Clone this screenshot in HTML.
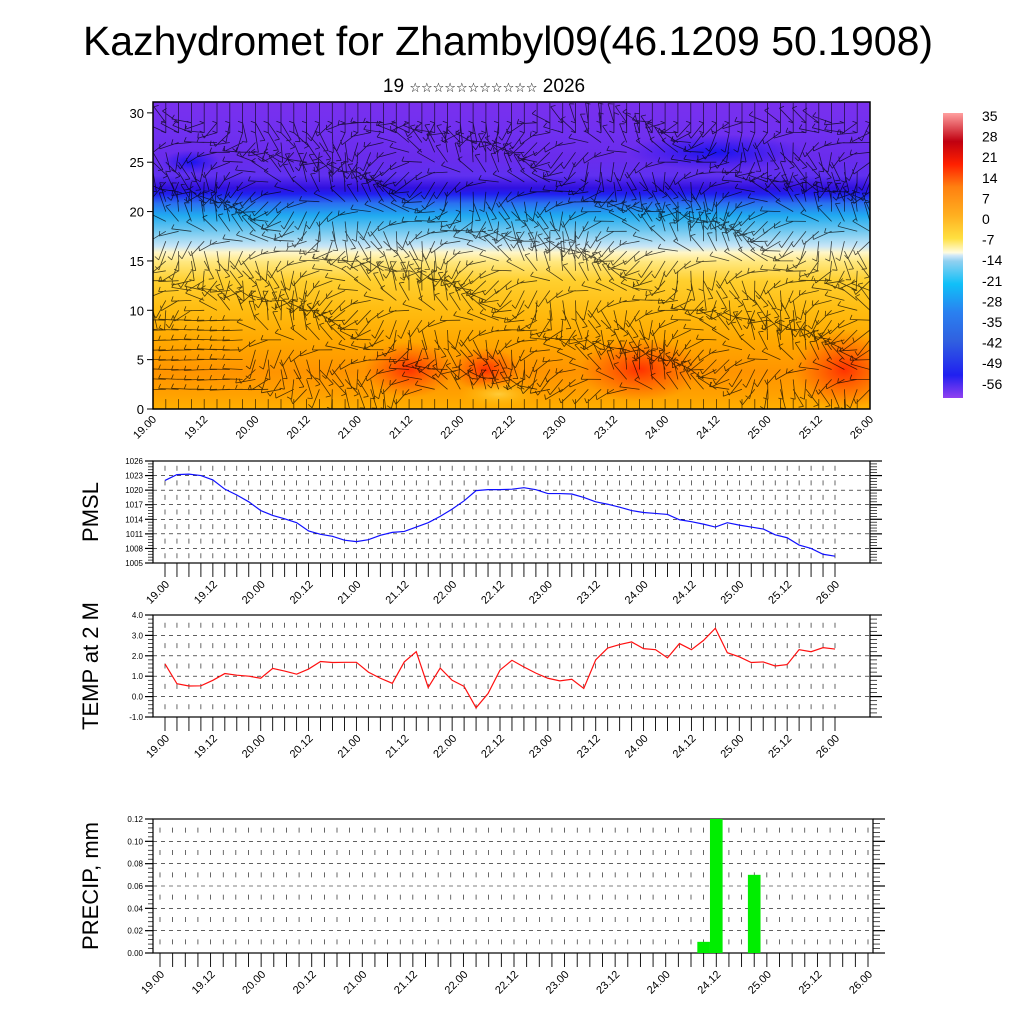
<!DOCTYPE html>
<html><head><meta charset="utf-8"><style>
body{margin:0;background:#fff;}
svg{display:block;font-family:"Liberation Sans","DejaVu Sans",sans-serif;}
</style></head><body>
<svg id="chart" width="1024" height="1024" viewBox="0 0 1024 1024" xmlns="http://www.w3.org/2000/svg">
<defs>
<linearGradient id="vgrad" x1="0" y1="1" x2="0" y2="0">
<stop offset="0" stop-color="#ffb000"/>
<stop offset="0.05" stop-color="#ffa000"/>
<stop offset="0.12" stop-color="#ff9400"/>
<stop offset="0.22" stop-color="#ffa800"/>
<stop offset="0.32" stop-color="#ffbc10"/>
<stop offset="0.42" stop-color="#ffd030"/>
<stop offset="0.48" stop-color="#ffe880"/>
<stop offset="0.51" stop-color="#fff6c8"/>
<stop offset="0.53" stop-color="#c8e6f6"/>
<stop offset="0.58" stop-color="#70c8f0"/>
<stop offset="0.63" stop-color="#20aaf0"/>
<stop offset="0.67" stop-color="#2a70f0"/>
<stop offset="0.70" stop-color="#2020f0"/>
<stop offset="0.72" stop-color="#3010e0"/>
<stop offset="0.76" stop-color="#6030f0"/>
<stop offset="0.82" stop-color="#6a2cec"/>
<stop offset="0.9" stop-color="#7030f0"/>
<stop offset="1" stop-color="#7a30ee"/>
</linearGradient>
<radialGradient id="red"><stop offset="0" stop-color="#ff2000" stop-opacity="0.85"/><stop offset="1" stop-color="#ff4000" stop-opacity="0"/></radialGradient>
<radialGradient id="yel"><stop offset="0" stop-color="#ffd040" stop-opacity="0.9"/><stop offset="1" stop-color="#ffc000" stop-opacity="0"/></radialGradient>
<radialGradient id="dblue"><stop offset="0" stop-color="#1010f0" stop-opacity="0.9"/><stop offset="1" stop-color="#2010f0" stop-opacity="0"/></radialGradient>
<linearGradient id="cbar" x1="0" y1="1" x2="0" y2="0">
<stop offset="0" stop-color="#9040f0"/>
<stop offset="0.08" stop-color="#2020f0"/>
<stop offset="0.2" stop-color="#3060e0"/>
<stop offset="0.3" stop-color="#2a80f0"/>
<stop offset="0.4" stop-color="#10c0f8"/>
<stop offset="0.48" stop-color="#90d0f0"/>
<stop offset="0.5" stop-color="#d0e8f8"/>
<stop offset="0.51" stop-color="#fffce0"/>
<stop offset="0.56" stop-color="#ffe040"/>
<stop offset="0.64" stop-color="#ffb020"/>
<stop offset="0.74" stop-color="#ff8010"/>
<stop offset="0.82" stop-color="#ff2000"/>
<stop offset="0.9" stop-color="#c00010"/>
<stop offset="1" stop-color="#ffa0a0"/>
</linearGradient>
<clipPath id="topclip"><rect x="153" y="102" width="717" height="307"/></clipPath>
</defs>
<text x="508" y="55" font-size="41" text-anchor="middle">Kazhydromet for Zhambyl09(46.1209 50.1908)</text>
<text x="484" y="92" font-size="19" text-anchor="middle">19 <tspan font-size="13">☆☆☆☆☆☆☆☆☆☆☆</tspan> 2026</text>
<g id="xsec"></g>
<g id="cb"></g>
<g id="p1"></g>
<g id="p2"></g>
<g id="p3"></g>
</svg>
<script>
const timeLabels=["19.00","19.12","20.00","20.12","21.00","21.12","22.00","22.12","23.00","23.12","24.00","24.12","25.00","25.12","26.00"];
const pmsl=[1022.0,1023.2,1023.3,1023.0,1022.1,1020.2,1019.0,1017.6,1015.8,1014.8,1014.1,1013.3,1011.6,1010.9,1010.5,1009.7,1009.4,1009.8,1010.7,1011.3,1011.5,1012.4,1013.3,1014.6,1016.1,1017.8,1019.9,1020.1,1020.1,1020.2,1020.5,1020.1,1019.3,1019.3,1019.2,1018.5,1017.6,1017.1,1016.5,1015.8,1015.4,1015.2,1015.0,1013.9,1013.5,1013.0,1012.4,1013.3,1012.8,1012.4,1012.0,1010.8,1010.2,1008.7,1008.0,1006.8,1006.4];
const temp=[1.6,0.63,0.52,0.53,0.8,1.13,1.05,1.0,0.9,1.38,1.25,1.1,1.35,1.72,1.67,1.68,1.68,1.2,0.9,0.65,1.7,2.2,0.45,1.4,0.8,0.5,-0.55,0.15,1.3,1.78,1.45,1.15,0.9,0.77,0.85,0.4,1.8,2.38,2.55,2.68,2.35,2.3,1.9,2.6,2.3,2.75,3.35,2.15,1.95,1.67,1.7,1.5,1.57,2.3,2.2,2.4,2.33];
const precip=[0,0,0,0,0,0,0,0,0,0,0,0,0,0,0,0,0,0,0,0,0,0,0,0,0,0,0,0,0,0,0,0,0,0,0,0,0,0,0,0,0,0,0,0.01,0.12,0,0,0.07,0,0,0,0,0,0,0,0,0];
const pmslTicks=[1005,1008,1011,1014,1017,1020,1023,1026];
const tempTicks=["-1.0","0.0","1.0","2.0","3.0","4.0"];
const precipTicks=["0.00","0.02","0.04","0.06","0.08","0.10","0.12"];
const heightTicks=[0,5,10,15,20,25,30];
const cbLabels=["35","28","21","14","7","0","-7","-14","-21","-28","-35","-42","-49","-56"];

const NS="http://www.w3.org/2000/svg";
function mk(parent,tag,attrs){const e=document.createElementNS(NS,tag);for(const k in attrs)e.setAttribute(k,attrs[k]);parent.appendChild(e);return e;}

/* ---- top cross-section ---- */
const xsec=document.getElementById('xsec');
const tx=i=>153+i*(717/56), ty=h=>409-h*(307/31.1);
const fieldRect=mk(xsec,'rect',{x:153,y:102,width:717,height:307,fill:'url(#vgrad)'});


const bg=mk(xsec,'g',{'clip-path':'url(#topclip)'});
[['red',20,4,45,28],['red',26,4,35,22],['red',38,4,60,32],['red',54,4,50,40],['yel',27,1.5,40,14],['dblue',44,26,90,18],['dblue',3,25,30,12]].forEach(b=>{
  mk(bg,'ellipse',{cx:tx(b[1]),cy:ty(b[2]),rx:b[3],ry:b[4],fill:'url(#'+b[0]+')'});
});
const wg=mk(bg,'g',{stroke:'#000','stroke-width':0.8,'stroke-opacity':0.7,fill:'none'});


let d='';
for(let i=0;i<=56;i++){for(let h=0;h<=31;h++){
  let a;
  if(h<=1||h>=30)a=Math.PI/2;
  else if(i<8&&h<10)a=0.05*Math.sin(i+h);
  else a=1.2*Math.sin(i*0.37+h*0.81)+0.8*Math.cos(i*0.13-h*0.5)+0.4;
  const L=20, x0=tx(i), y0=ty(h);
  const x1=x0-L*Math.cos(a), y1=y0+L*Math.sin(a);
  d+=`M${x0.toFixed(1)} ${y0.toFixed(1)}L${x1.toFixed(1)} ${y1.toFixed(1)}`;
  const bx=x1+5*Math.cos(a+1.2), by=y1-5*Math.sin(a+1.2);
  d+=`M${x1.toFixed(1)} ${y1.toFixed(1)}L${bx.toFixed(1)} ${by.toFixed(1)}`;
}}
mk(wg,'path',{d:d});
mk(xsec,'rect',{x:153,y:102,width:717,height:307,fill:'none',stroke:'#000','stroke-width':1.5});
heightTicks.forEach(h=>{
  mk(xsec,'line',{x1:147,x2:153,y1:ty(h),y2:ty(h),stroke:'#000'});
  const t=mk(xsec,'text',{x:144,y:ty(h)+5,'font-size':13,'text-anchor':'end'});t.textContent=h;
  
  
});
timeLabels.forEach((s,k)=>{
  const x=153+k*717/14;
  const t=mk(xsec,'text',{x:0,y:0,'font-size':11,'text-anchor':'end',transform:`translate(${x+4},${420}) rotate(-45)`});t.textContent=s;
  
  
});

/* ---- colorbar ---- */
const cb=document.getElementById('cb');
mk(cb,'rect',{x:943,y:113,width:20,height:285,fill:'url(#cbar)'});
cbLabels.forEach((s,k)=>{
  const t=mk(cb,'text',{x:982,y:121+k*20.6,'font-size':14});t.textContent=s;
  
  
});

/* ---- line/bar panels ---- */
function panel(id,top_,bot,ymin,ymax,ticks,title,xl,xr,x0,x1){
  const g=document.getElementById(id);
  const X=i=>x0+i*(x1-x0)/56, Y=v=>bot-(v-ymin)/(ymax-ymin)*(bot-top_);
  ticks.forEach(v=>{v=+v;if(v>ymin&&v<ymax)mk(g,'line',{x1:xl,x2:xr,y1:Y(v),y2:Y(v),stroke:'#000','stroke-width':0.6,'stroke-dasharray':'4 4'});});
  const step=(ticks[1]-ticks[0])/2;
  for(let v=ymin+step;v<ymax;v+=step*2){
    for(let i=0;i<=56;i++)mk(g,'line',{x1:X(i),x2:X(i),y1:Y(v)-2.5,y2:Y(v)+2.5,stroke:'#000','stroke-width':0.6});
  }
  for(let i=0;i<=56;i++){
    mk(g,'line',{x1:X(i),x2:X(i),y1:bot,y2:bot+14,stroke:'#000','stroke-width':0.9});
  }
  mk(g,'rect',{x:xl,y:top_,width:xr-xl,height:bot-top_,fill:'none',stroke:'#000','stroke-width':1.2});
  const n=ticks.length-1;
  for(let k=0;k<=n*5;k++){
    const v=ymin+k*(ymax-ymin)/(n*5), maj=k%5==0;
    mk(g,'line',{x1:xl-(maj?8:5),x2:xl,y1:Y(v),y2:Y(v),stroke:'#000','stroke-width':maj?1.2:0.7});
    mk(g,'line',{x1:xr,x2:xr+(maj?12:7),y1:Y(v),y2:Y(v),stroke:'#000','stroke-width':maj?1.2:0.7});
  }
  ticks.forEach(v=>{const t=mk(g,'text',{x:xl-10,y:Y(+v)+3,'font-size':8,'text-anchor':'end'});t.textContent=v;
    
    });
  timeLabels.forEach((s,k)=>{const x=X(k*4);const t=mk(g,'text',{x:0,y:0,'font-size':11,'text-anchor':'end',transform:`translate(${x+5},${bot+22}) rotate(-45)`});t.textContent=s;
    
    });
  const yt=mk(g,'text',{x:0,y:0,'font-size':22,'text-anchor':'middle',transform:`translate(98,${(top_+bot)/2}) rotate(-90)`});yt.textContent=title;
  
  
  return {g,X,Y};
}
let P=panel('p1',461,563,1005,1026,pmslTicks,'PMSL',153,870,165,835);
const pl=mk(P.g,'polyline',{points:pmsl.map((v,i)=>P.X(i)+','+P.Y(v)).join(' '),fill:'none',stroke:'#1010ff','stroke-width':1.2});


P=panel('p2',615,717,-1,4,tempTicks,'TEMP at 2 M',153,870,165,835);
const tl=mk(P.g,'polyline',{points:temp.map((v,i)=>P.X(i)+','+P.Y(v)).join(' '),fill:'none',stroke:'#ff1010','stroke-width':1.2});


P=panel('p3',819,953,0,0.12,precipTicks,'PRECIP, mm',153,873,160,868);
const bw=(868-160)/56;
precip.forEach((v,i)=>{if(v>0){const b=mk(P.g,'rect',{x:P.X(i)-bw/2,y:P.Y(v),width:bw,height:P.Y(0)-P.Y(v),fill:'#00ee00'});
  
  }});
</script>
</body></html>
